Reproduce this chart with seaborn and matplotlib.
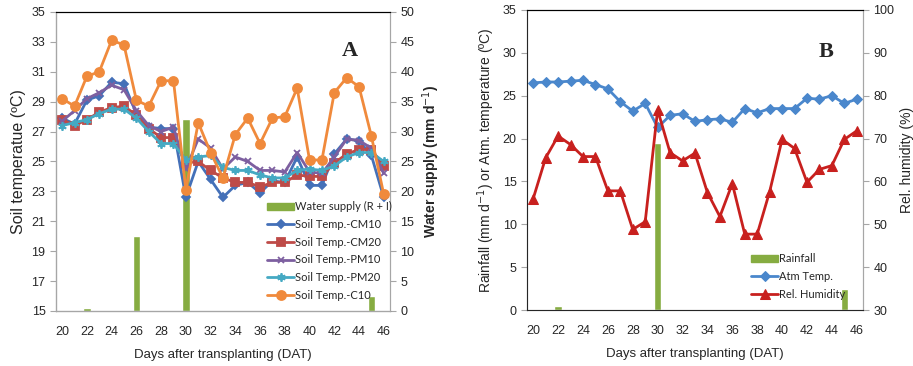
import numpy as np
import pandas as pd
import seaborn as sns
import matplotlib.pyplot as plt
from matplotlib.patches import Patch

# Days after transplanting
days = list(range(20, 47))

# Panel A: soil temperature (degC) and water supply (mm/d)
water_supply = [0, 0, 0.5, 0, 0, 0, 12.5, 0, 0, 0, 32.1, 0, 0, 0, 0, 0, 0, 0,
                0, 0, 0, 0, 0, 0, 0, 2.5, 0]
cm10 = [27.9, 27.5, 29.1, 29.4, 30.3, 30.2, 28.2, 27.3, 27.2, 27.2, 22.6, 25.0,
        23.8, 22.6, 23.4, 23.6, 22.9, 23.7, 23.6, 25.3, 23.4, 23.4, 25.5, 26.5,
        26.4, 25.4, 22.6]
cm20 = [27.8, 27.4, 27.8, 28.3, 28.6, 28.7, 28.1, 27.2, 26.6, 26.6, 24.9, 25.0,
        24.4, 23.9, 23.6, 23.6, 23.3, 23.6, 23.6, 24.1, 24.0, 24.0, 24.9, 25.5,
        25.8, 25.8, 24.7]
pm10 = [27.7, 28.4, 29.2, 29.6, 30.1, 29.8, 28.4, 27.4, 27.0, 27.3, 24.5, 26.5,
        25.9, 24.5, 25.3, 25.0, 24.4, 24.4, 24.3, 25.6, 24.3, 24.2, 25.3, 26.5,
        26.4, 25.9, 24.2]
pm20 = [27.4, 27.6, 27.8, 28.2, 28.5, 28.5, 27.9, 27.0, 26.2, 26.2, 25.1, 25.3,
        25.4, 24.6, 24.4, 24.4, 24.1, 23.9, 23.9, 24.4, 24.5, 24.4, 24.7, 25.3,
        25.6, 25.6, 25.0]
c10 = [29.2, 28.7, 30.7, 31.0, 33.1, 32.8, 29.1, 28.7, 30.4, 30.4, 23.1, 27.6,
       25.6, 23.9, 26.8, 27.9, 26.2, 27.9, 28.0, 29.9, 25.1, 25.1, 29.6, 30.6,
       30.0, 26.7, 22.8]

# Panel B: rainfall (mm/d), air temperature (degC), relative humidity (%)
rainfall = [0, 0, 0.5, 0, 0, 0, 0, 0, 0, 0, 19.5, 0, 0, 0, 0, 0, 0, 0,
            0, 0, 0, 0, 0, 0, 0, 2.4, 0]
atm_temp = [26.5, 26.6, 26.6, 26.7, 26.8, 26.3, 25.8, 24.3, 23.2, 24.1, 21.3, 22.7,
            22.9, 22.0, 22.2, 22.3, 21.9, 23.5, 23.0, 23.5, 23.5, 23.5, 24.7, 24.6,
            25.0, 24.1, 24.6]
rel_hum = [56.0, 65.5, 70.6, 68.6, 65.8, 65.8, 57.8, 57.8, 48.8, 50.6, 76.7, 66.7,
           64.8, 66.6, 57.4, 51.8, 59.5, 47.7, 47.7, 57.6, 69.8, 67.7, 59.8, 62.8,
           63.7, 69.8, 71.8]

soil = pd.DataFrame({'DAT': days, 'CM10': cm10, 'CM20': cm20, 'PM10': pm10,
                     'PM20': pm20, 'C10': c10, 'Water': water_supply})
weather = pd.DataFrame({'DAT': days, 'Rain': rainfall, 'Atm': atm_temp, 'RH': rel_hum})

sns.set_style('white')
plt.rcParams['font.family'] = ['Liberation Sans', 'DejaVu Sans']

green = '#86AC41'
grey = '#A6A6A6'
fig = plt.figure(figsize=(9.13, 3.66), dpi=100)
axA = fig.add_axes([0.0613, 0.1503, 0.3658, 0.817])
axB = fig.add_axes([0.5772, 0.153, 0.368, 0.8197])


def style_x(ax):
    ax.set_xlim(19.5, 46.5)
    ax.set_xticks(range(20, 47, 2))
    ax.set_xticks(np.arange(19.5, 47, 1), minor=True)
    ax.tick_params(axis='x', which='major', length=0, labelsize=9, pad=11)
    ax.tick_params(axis='x', which='minor', length=4, color=grey, direction='out')
    ax.set_xlabel('Days after transplanting (DAT)', fontsize=9.5, labelpad=8)
    for s in ['left', 'bottom', 'right']:
        ax.spines[s].set_color(grey)
    ax.spines['top'].set_color('black')
    ax.spines['top'].set_linewidth(0.8)


# ---------------- Panel A ----------------
axA2 = axA.twinx()
sns.barplot(data=soil, x='DAT', y='Water', native_scale=True, width=0.6,
            color=green, saturation=1, errorbar=None, ax=axA2)
axA2.set_ylim(0, 50)
axA2.set_yticks(range(0, 51, 5))
axA2.set_ylabel('Water supply (mm d$^{-1}$)', fontsize=10, fontweight='bold')
axA2.tick_params(axis='y', length=4, color=grey, direction='out', labelsize=9)

series_a = [('CM10', '#4470B8', 'D', 4.5), ('CM20', '#BE4B48', 's', 6),
            ('PM10', '#7D5FA0', 'x', 5), ('PM20', '#45A9C3', (6, 2, 0), 6),
            ('C10', '#F08A3C', 'o', 6.5)]
for name, col, mk, ms in series_a:
    sns.lineplot(data=soil, x='DAT', y=name, color=col, marker=mk, markersize=ms,
                 markeredgecolor=col, markeredgewidth=1.3, linewidth=2,
                 label='Soil Temp.-' + name, legend=False, ax=axA)
axA.set_ylim(15, 35)
axA.set_yticks(range(15, 36, 2))
axA.set_ylabel('Soil temperatue (ºC)', fontsize=11.5, labelpad=4)
axA.tick_params(axis='y', length=4, color=grey, direction='out', labelsize=9)
style_x(axA)
axA2.set_xlim(19.5, 46.5)
axA2.spines['right'].set_color(grey)
axA2.spines['top'].set_color('black')
axA.set_zorder(axA2.get_zorder() + 1)
axA.patch.set_visible(False)

h, l = axA.get_legend_handles_labels()
h = [Patch(color=green)] + h
l = ['Water supply (R + I)'] + l
axA.legend(h, l, loc='lower left', bbox_to_anchor=(0.62, 0.02), frameon=False,
           prop={'family': 'Lato', 'size': 8}, handlelength=2.4, handleheight=0.6,
           handletextpad=0.1, labelspacing=0.6, borderaxespad=0)
axA.text(0.88, 0.87, 'A', transform=axA.transAxes, ha='center', va='center',
         fontsize=16, fontweight='bold', family='Liberation Serif')

# ---------------- Panel B ----------------
axB2 = axB.twinx()
sns.barplot(data=weather, x='DAT', y='Rain', native_scale=True, width=0.6,
            color=green, saturation=1, errorbar=None, ax=axB)
sns.lineplot(data=weather, x='DAT', y='Atm', color='#4A87CC', marker='D',
             markersize=5, markeredgecolor='#4A87CC', linewidth=2,
             label='Atm Temp.', legend=False, ax=axB)
sns.lineplot(data=weather, x='DAT', y='RH', color='#C8201E', marker='^',
             markersize=6.5, markeredgecolor='#C8201E', linewidth=2,
             label='Rel. Humidity', legend=False, ax=axB2)
axB.set_ylim(0, 35)
axB.set_yticks(range(0, 36, 5))
axB.set_ylabel('Rainfall (mm d$^{-1}$) or Atm. temperature (ºC)', fontsize=10, labelpad=4)
axB.tick_params(axis='y', length=4, color=grey, direction='out', labelsize=9)
axB2.set_ylim(30, 100)
axB2.set_yticks(range(30, 101, 10))
axB2.set_ylabel('Rel. humidity (%)', fontsize=10, labelpad=4)
axB2.tick_params(axis='y', length=4, color=grey, direction='out', labelsize=9)
style_x(axB)
axB2.set_xlim(19.5, 46.5)
axB2.spines['right'].set_color(grey)
axB2.spines['top'].set_color('black')
axB2.set_xlabel('')

h1, l1 = axB.get_legend_handles_labels()
h2, l2 = axB2.get_legend_handles_labels()
axB2.legend([Patch(color=green)] + h1 + h2, ['Rainfall'] + l1 + l2,
            loc='lower left', bbox_to_anchor=(0.655, 0.02), frameon=False,
            prop={'family': 'Lato', 'size': 8}, handlelength=2.4, handleheight=0.6,
            handletextpad=0.1, labelspacing=0.6, borderaxespad=0)
axB.text(0.89, 0.86, 'B', transform=axB.transAxes, ha='center', va='center',
         fontsize=16, fontweight='bold', family='Liberation Serif')

fig.savefig('out.png', dpi=100)
